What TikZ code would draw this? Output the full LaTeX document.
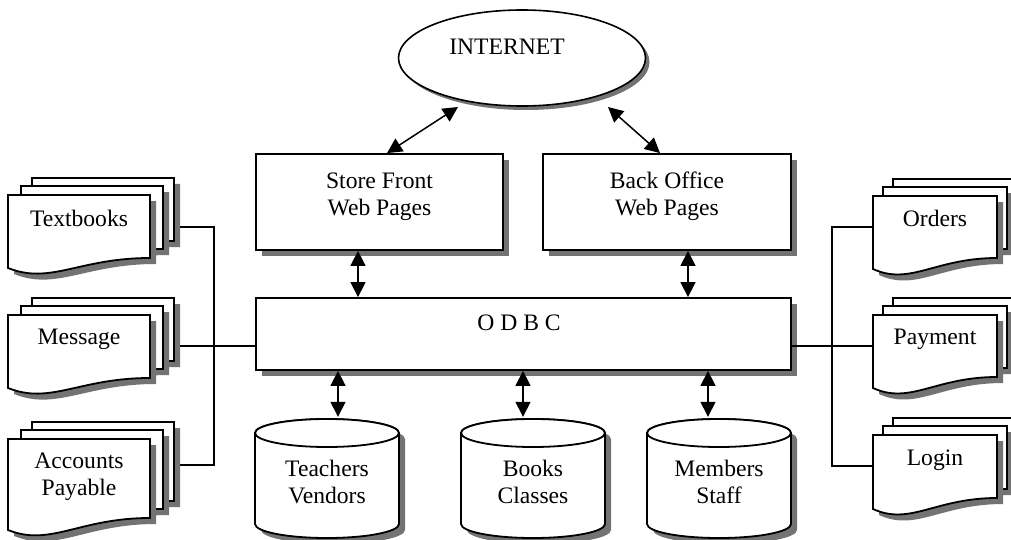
\documentclass[tikz,border=0pt]{standalone}
\usepackage{fontspec}
\setmainfont{Liberation Serif}
\usetikzlibrary{shapes.geometric,arrows.meta,calc}
\definecolor{shadowgray}{rgb}{0.45,0.45,0.45}
\newcommand\docpage[5]{%
  \fill[shadowgray] (#1+6,#2+6) -- ++(#3,0) -- ++(0,#4) .. controls ++({-0.5*#3},0) and ({#1+6+0.3*#3},{#2+6+#5+17}) .. (#1+6,#2+6+#5) -- cycle;
  \draw[pagestyle] (#1,#2) -- ++(#3,0) -- ++(0,#4) .. controls ++({-0.5*#3},0) and ({#1+0.3*#3},{#2+#5+17}) .. (#1,#2+#5) -- cycle;}
\newcommand\docstack[7]{%
  \docpage{#1+#7}{#2-17}{#3}{#4}{#5}%
  \docpage{#1+#6}{#2-9}{#3}{#4}{#5}%
  \docpage{#1}{#2}{#3}{#4}{#5}}
\newcommand\cylshape[2]{% #1 centre x, #2 top y
  \fill[shadowgray] (#1-72+6,#2+14+6) -- (#1-72+6,#2+105+6) arc[start angle=180,end angle=360,x radius=72pt,y radius=14pt] -- (#1+72+6,#2+14+6) arc[start angle=0,end angle=180,x radius=72pt,y radius=14pt] -- cycle;
  \filldraw[pagestyle] (#1-72,#2+14) -- (#1-72,#2+105) arc[start angle=180,end angle=360,x radius=72pt,y radius=14pt] -- (#1+72,#2+14) arc[start angle=0,end angle=180,x radius=72pt,y radius=14pt] -- cycle;
  \draw[pagestyle] (#1,#2+14) ellipse[x radius=72pt,y radius=14pt];}
\newcommand\boxshadow[1]{\fill[shadowgray] ([shift={(6,6)}]#1.north west) rectangle ([shift={(6,6)}]#1.south east);}
\begin{document}
\begin{tikzpicture}[x=1pt,y=-1pt,
  lbl/.style={font=\fontsize{23.6}{27}\selectfont, align=center, inner sep=0pt},
  pagestyle/.style={draw=black, fill=white, line width=1.8pt, line join=miter},
  box/.style={draw=black, fill=white, line width=1.8pt, rectangle, inner sep=0pt},
  ell/.style={draw=black, fill=white, line width=1.6pt, ellipse, inner sep=0pt,
    minimum width=247pt, minimum height=96pt},
  spot/.style={inner sep=0pt, minimum width=144pt, minimum height=119pt},
  wire/.style={line width=1.5pt},
  dbl/.style={{Triangle[length=15pt,width=15pt]}-{Triangle[length=15pt,width=15pt]}, line width=1.5pt}]
\useasboundingbox (0,0) rectangle (1011,540);
\clip (0,0) rectangle (1011,540);

% connection points
\coordinate (tbR) at (173,227);
\coordinate (msgR) at (173,346);
\coordinate (apR) at (173,465);
\coordinate (busL) at (214,0);
\coordinate (ordL) at (873,227);
\coordinate (payL) at (873,346);
\coordinate (lgL) at (873,466);
\coordinate (busR) at (832,0);
\coordinate (a1) at (358,0);
\coordinate (a2) at (688,0);
\coordinate (a3) at (387,0);
\coordinate (a4) at (660,0);
\coordinate (c1) at (338,0);
\coordinate (c2) at (523,0);
\coordinate (c3) at (708,0);

% shadows of boxes and ellipse
\fill[shadowgray] (526,62) ellipse[x radius=123.5pt, y radius=48pt];
\fill[shadowgray] (256+6,154+6) rectangle (503+6,250+6);
\fill[shadowgray] (543+6,154+6) rectangle (791+6,250+6);
\fill[shadowgray] (256+6,298+6) rectangle (791+6,370+6);

% main nodes
\node[ell] (inet) at (522,58) {};
\node[lbl] (inetT) at (507,47) {INTERNET};
\node[box, minimum width=247pt, minimum height=96pt] (sf) at (379.5,202) {};
\node[lbl] (sfT) at (379.5,196.5) {Store Front\\Web Pages};
\node[box, minimum width=248pt, minimum height=96pt] (bo) at (667,202) {};
\node[lbl] (boT) at (667,196.5) {Back Office\\Web Pages};

% side connectors (behind shapes)
\draw[wire] (tbR) -- (tbR -| busL) -- (apR -| busL) -- (apR);
\draw[wire] (ordL) -- (ordL -| busR) -- (lgL -| busR) -- (lgL);

\node[box, minimum width=535pt, minimum height=72pt] (odbc) at (523.5,334) {};
\node[lbl] (odbcT) at (519,323) {O D B C};

\draw[wire] (msgR) -- (odbc.west |- msgR);
\draw[wire] (odbc.east |- payL) -- (payL);

% document stacks, left
\docstack{8}{195}{142}{63}{73}{13}{24}
\docstack{8}{315}{142}{63}{73}{13}{24}
\docstack{8}{439}{142}{79}{91}{13}{24}
\node[lbl] (tb) at (79,218) {Textbooks};
\node[lbl] (msg) at (79,339.5) {Message};
\node[lbl] (ap) at (79,476.5) {Accounts\\Payable};

% document stacks, right
\docstack{873}{196}{124}{62}{73}{10}{20}
\docstack{873}{315}{124}{62}{73}{10}{20}
\docstack{873}{435}{124}{63}{74}{10}{20}
\node[lbl] (ord) at (935,218) {Orders};
\node[lbl] (pay) at (935,339.5) {Payment};
\node[lbl] (lg) at (935,460.5) {Login};

% databases
\cylshape{327}{419}
\cylshape{533}{419}
\cylshape{719}{419}
\node[spot] (tv) at (327,478.5) {};
\node[spot] (bc) at (533,478.5) {};
\node[spot] (ms) at (719,478.5) {};
\node[lbl] (tvT) at (327,481.5) {Teachers\\Vendors};
\node[lbl] (bcT) at (533,481.5) {Books\\Classes};
\node[lbl] (msT) at (719,481.5) {Members\\Staff};

% arrows
\draw[dbl] (sf.north -| a3) -- ($(inet.center)+(-64,49)$);
\draw[dbl] ($(inet.center)+(86,49)$) -- (bo.north -| a4);
\draw[dbl] (sf.south -| a1) -- (odbc.north -| a1);
\draw[dbl] (bo.south -| a2) -- (odbc.north -| a2);
\draw[dbl] (odbc.south -| c1) -- ([yshift=2pt]tv.north -| c1);
\draw[dbl] (odbc.south -| c2) -- ([yshift=2pt]bc.north -| c2);
\draw[dbl] (odbc.south -| c3) -- ([yshift=2pt]ms.north -| c3);
\end{tikzpicture}
\end{document}
